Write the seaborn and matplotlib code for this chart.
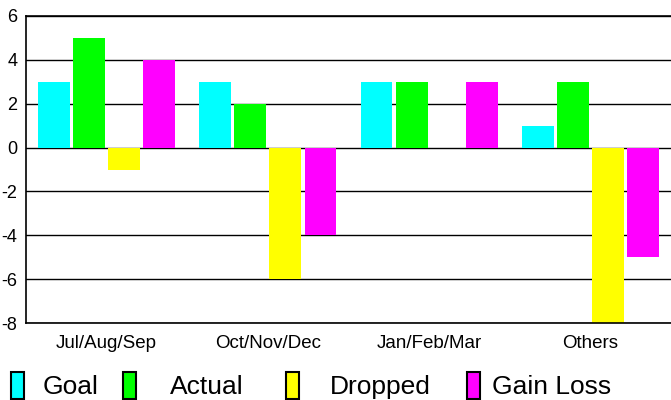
import matplotlib
matplotlib.use("Agg")
import matplotlib.pyplot as plt
from matplotlib.patches import Rectangle
import seaborn as sns
import pandas as pd

categories = ["Jul/Aug/Sep", "Oct/Nov/Dec", "Jan/Feb/Mar", "Others"]
series = ["Goal", "Actual", "Dropped", "Gain Loss"]
goal = [3, 3, 3, 1]
actual = [5, 2, 3, 3]
dropped = [-1, -6, 0, -8]
gain_loss = [4, -4, 3, -5]
colors = ["#00ffff", "#00ff00", "#ffff00", "#ff00ff"]
y_ticks = [-8, -6, -4, -2, 0, 2, 4, 6]

rows = []
for s, vals in zip(series, [goal, actual, dropped, gain_loss]):
    for c, v in zip(categories, vals):
        rows.append({"cat": c, "series": s, "value": v})
df = pd.DataFrame(rows)

sns.set_style("white")
plt.rcParams["font.family"] = ["Liberation Sans", "DejaVu Sans"]
plt.rcParams["text.color"] = "black"
plt.rcParams["xtick.color"] = "black"
plt.rcParams["ytick.color"] = "black"

W, H = 671, 400
fig = plt.figure(figsize=(W / 100, H / 100), dpi=100)
ax = fig.add_axes([26 / W, 1 - 323 / H, 1 - 26 / W, (323 - 16) / H])

sns.barplot(data=df, x="cat", y="value", hue="series", order=categories,
            hue_order=series, palette=colors, width=0.87, gap=0.09,
            saturation=1, ax=ax, legend=False, linewidth=0)

ax.set_ylim(-8, 6)
ax.set_yticks(y_ticks)
ax.set_yticklabels([str(t) for t in y_ticks], fontsize=13)
ax.tick_params(axis="x", labelsize=13.5, length=0, pad=8.5, labelcolor="black")
ax.tick_params(axis="y", length=0, pad=6.3, labelcolor="black")
ax.set_xlabel("")
ax.set_ylabel("")
ax.set_xlim(-0.5, 3.5)
for t in y_ticks:
    ax.axhline(t, color="black", lw=1.0, zorder=0.5)
ax.spines["right"].set_visible(False)
for side in ["left", "bottom", "top"]:
    ax.spines[side].set_visible(True)
    ax.spines[side].set_color("black")
    ax.spines[side].set_linewidth(1.2)

# Legend
marker_x = [11, 123, 286, 467]
text_x = [43, 170, 330, 492]
for s, col, mx, tx in zip(series, colors, marker_x, text_x):
    fig.add_artist(Rectangle((mx / W, 1 - 399 / H), 13 / W, 27 / H,
                             transform=fig.transFigure, facecolor=col,
                             edgecolor="black", linewidth=1.5))
    fig.text(tx / W, 1 - 394 / H, s, fontsize=19, va="baseline", ha="left",
             color="black")

fig.savefig("out.png", dpi=100)
